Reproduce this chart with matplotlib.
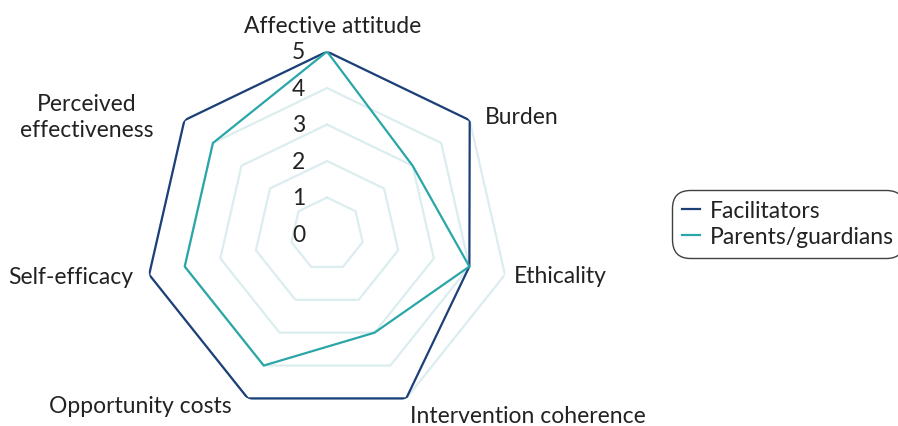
import numpy as np
import matplotlib
matplotlib.use('Agg')
import matplotlib.pyplot as plt

plt.rcParams['font.family'] = ['Lato', 'DejaVu Sans']

categories = ['Affective attitude', 'Burden', 'Ethicality', 'Intervention coherence',
              'Opportunity costs', 'Self-efficacy', 'Perceived\neffectiveness']
facilitators = [5, 5, 4, 5, 5, 5, 5]
parents = [5, 3, 4, 3, 4, 4, 4]
levels = [0, 1, 2, 3, 4, 5]

navy = '#1d3f78'
teal = '#2ba6a8'
gridc = '#dcedf0'
txtc = '#222222'

fig = plt.figure(figsize=(8.98, 4.27), dpi=100)
ax = fig.add_axes([0.161, 0.0222, 0.4064, 0.8548], projection='polar')
ax.set_theta_offset(np.pi / 2)
ax.set_theta_direction(-1)
ax.set_ylim(0, 5)
ax.axis('off')

n = len(categories)
theta = np.linspace(0, 2 * np.pi, n, endpoint=False)
closed = np.append(theta, theta[0])

# heptagon grid
for lv in levels[1:]:
    ax.plot(closed, [lv] * (n + 1), color=gridc, lw=1.6, zorder=1)

ax.plot(closed, facilitators + facilitators[:1], color=navy, lw=1.6, label='Facilitators', zorder=3)
ax.plot(closed, parents + parents[:1], color=teal, lw=1.6, label='Parents/guardians', zorder=3)

# radial labels
for lv in levels:
    ax.annotate(str(lv), xy=(0, lv), xytext=(-22, 0), textcoords='offset pixels',
                ha='right', va='center', fontsize=16.5, color=txtc, zorder=4)

# category labels
offsets = [(6, 20, 'center', 'baseline'), (15, 4, 'left', 'center'), (9, -1, 'left', 'center'),
           (4, -17, 'left', 'center'), (-16, -7, 'right', 'center'), (-16, -2, 'right', 'center'),
           (-98, 4, 'center', 'center')]
for t, lab, (dx, dy, ha, va) in zip(theta, categories, offsets):
    ax.annotate(lab, xy=(t, 5), xytext=(dx, dy), textcoords='offset pixels',
                ha=ha, va=va, fontsize=16.5, color=txtc, multialignment='center',
                linespacing=1.3, annotation_clip=False)

leg = fig.legend(loc='upper left', bbox_to_anchor=(679 / 898, 1 - 198 / 427),
                 fontsize=16.5, frameon=True, fancybox=True, handlelength=0.75,
                 handletextpad=0.45, borderpad=0.15, labelspacing=0.22, borderaxespad=0)
leg.get_frame().set_edgecolor('#111111')
leg.get_frame().set_linewidth(1.0)
leg.get_frame().set_boxstyle('round', pad=0.3, rounding_size=0.8)
for txt in leg.get_texts():
    txt.set_color(txtc)

fig.savefig('out.png', dpi=100)
